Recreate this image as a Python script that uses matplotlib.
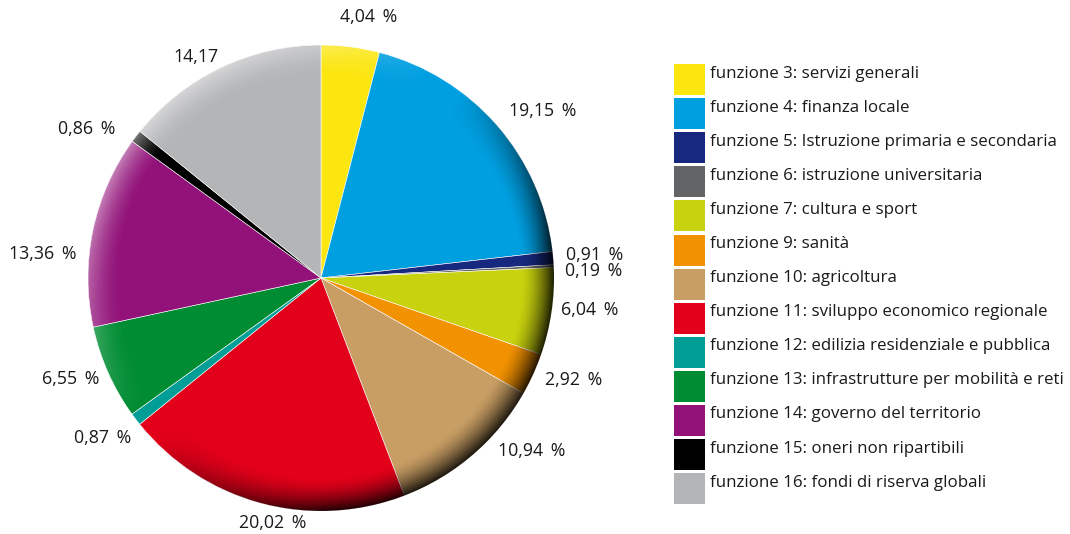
import numpy as np
import matplotlib
matplotlib.use("Agg")
import matplotlib.pyplot as plt
from matplotlib.patches import Circle, Rectangle

labels = ["funzione 3: servizi generali", "funzione 4: finanza locale",
          "funzione 5: Istruzione primaria e secondaria", "funzione 6: istruzione universitaria",
          "funzione 7: cultura e sport", "funzione 9: sanità", "funzione 10: agricoltura",
          "funzione 11: sviluppo economico regionale", "funzione 12: edilizia residenziale e pubblica",
          "funzione 13: infrastrutture per mobilità e reti", "funzione 14: governo del territorio",
          "funzione 15: oneri non ripartibili", "funzione 16: fondi di riserva globali"]
values = [4.04, 19.15, 0.91, 0.19, 6.04, 2.92, 10.94, 20.02, 0.87, 6.55, 13.36, 0.86, 14.17]
value_texts = ["4,04 %", "19,15 %", "0,91 %", "0,19 %", "6,04 %", "2,92 %", "10,94 %",
               "20,02 %", "0,87 %", "6,55 %", "13,36 %", "0,86 %", "14,17"]
colors = ["#FBE610", "#009FE0", "#17297F", "#636466", "#C8D20E", "#F39200", "#C89E64",
          "#E2001A", "#009E96", "#008C32", "#921279", "#000000", "#B4B5B7"]

# label placement style: (angle offset in degrees, radial distance)
label_style = [(-3, 1.14), (-4, 1.19), (0, 1.18), (-1.5, 1.17), (1.5, 1.16), (2.5, 1.17),
               (10, 1.17), (4, 1.07), (-1, 1.16), (-2, 1.16), (7, 1.20), (5, 1.19), (4, 1.09)]

plt.rcParams['font.family'] = ['Open Sans', 'DejaVu Sans']

W, H = 1070, 534
fig = plt.figure(figsize=(W / 100, H / 100), dpi=100)
cx, cy, R = 321, 278, 233
axw = 660
ax = fig.add_axes([0, 0, axw / W, 1])

wedges, _ = ax.pie(values, colors=colors, startangle=90, counterclock=False,
                   radius=1, center=(0, 0), frame=True,
                   wedgeprops=dict(edgecolor='white', linewidth=0.4))
ax.set_xlim(-cx / R, (axw - cx) / R)
ax.set_ylim(-(H - cy) / R, cy / R)
ax.axis('off')

# rim shading overlay
n = 600
xs = np.linspace(-1, 1, n)
X, Y = np.meshgrid(xs, xs)
r = np.hypot(X, Y)
ang = np.arctan2(Y, X)
lx, ly = -0.75, 0.66
dot = (np.cos(ang) * lx + np.sin(ang) * ly)
band = np.clip((r - 0.86) / 0.14, 0, 1) ** 1.6
rgba = np.zeros((n, n, 4))
shadow = np.clip(-dot * 1.3 + 0.1, 0, 1) * band
light = np.clip(dot * 1.4 - 0.3, 0, 1) * band
rgba[..., 0:3] = np.where((light > shadow)[..., None], 1.0, 0.0)
rgba[..., 3] = np.clip(np.maximum(shadow * 0.85, light * 0.45), 0, 1)
im = ax.imshow(rgba, extent=(-1, 1, -1, 1), origin='lower', zorder=5, interpolation='bilinear')
im.set_clip_path(Circle((0, 0), 1, transform=ax.transData))

# value labels
cum = 0
for v, t, (da, d) in zip(values, value_texts, label_style):
    mid = 90 - 360 * (cum + v / 2) / 100 + da
    cum += v
    x = d * np.cos(np.radians(mid))
    y = d * np.sin(np.radians(mid))
    ax.text(x, y, t.replace(" %", "\u2009 %"), ha='center', va='center', fontsize=12.8,
            color='#1a1a1a', zorder=6)

# legend
lax = fig.add_axes([0, 0, 1, 1])
lax.set_xlim(0, W)
lax.set_ylim(H, 0)
lax.axis('off')
top0, step, sq = 64, 34.1, 31
for i, (lab, c) in enumerate(zip(labels, colors)):
    y0 = top0 + i * step
    lax.add_patch(Rectangle((674, y0), sq, sq, facecolor=c, edgecolor='none'))
    lax.text(710, y0 + 9.5, lab, ha='left', va='center', fontsize=12.15, color='#1a1a1a')

fig.savefig("out.png", dpi=100)
